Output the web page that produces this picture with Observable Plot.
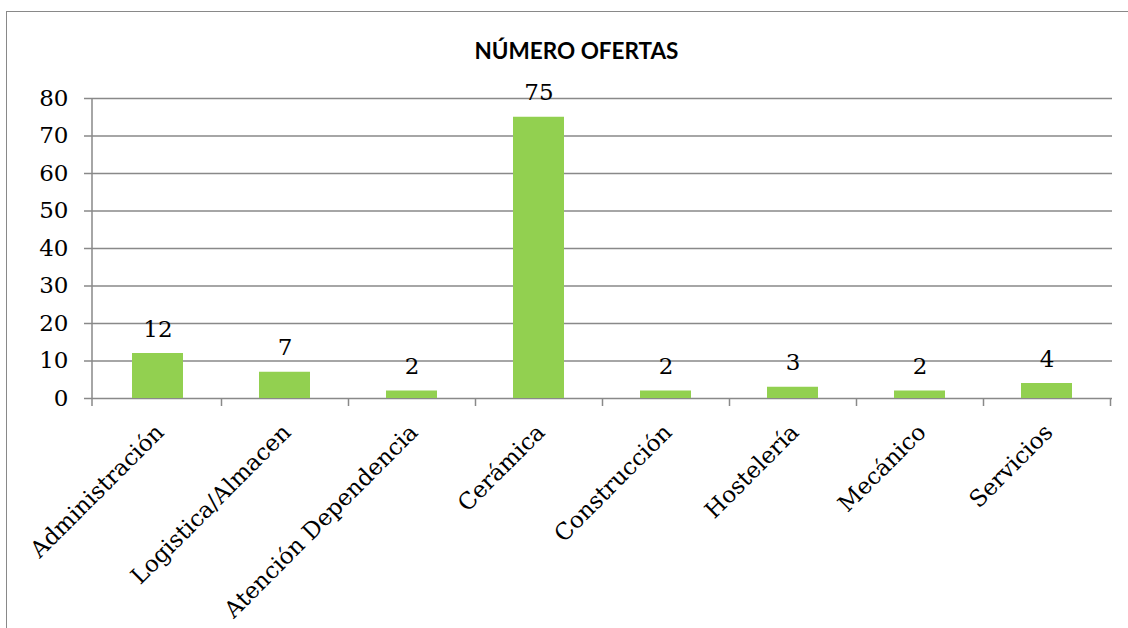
<!DOCTYPE html>
<html><head><meta charset="utf-8">
<script src="https://cdn.jsdelivr.net/npm/d3@7"></script>
<script src="https://cdn.jsdelivr.net/npm/@observablehq/plot@0.6"></script>
<style>
body{margin:0;background:#fff;}
#wrap{position:relative;width:1128px;height:628px;overflow:hidden;background:#fff;}
#frame{position:absolute;left:6px;top:11px;width:1200px;height:700px;border:1.5px solid #898989;box-sizing:border-box;}
#title{position:absolute;left:0;width:1153px;top:37px;text-align:center;font:bold 22.5px Lato;color:#000;}
#chart{position:absolute;left:0;top:0;}
</style></head>
<body>
<div id="wrap"><div id="frame"></div><div id="chart"></div><div id="title">NÚMERO OFERTAS</div></div>
<script>
const categories = ["Administración","Logistica/Almacen","Atención Dependencia","Cerámica","Construcción","Hostelería","Mecánico","Servicios"];
const values = [12, 7, 2, 75, 2, 3, 2, 4];
const yTicks = [0,10,20,30,40,50,60,70,80];

const data = categories.map((c,i)=>({cat:c, val:values[i]}));
const serif = "DejaVu Serif";
const grey = "#898989";

const axisLines = (index, scales, values, dim) => {
  const g = d3.create("svg:g").attr("stroke", grey).attr("stroke-width", 1.5).attr("fill","none");
  const x0 = dim.marginLeft, y0 = dim.height - dim.marginBottom, top = dim.marginTop;
  const step = (dim.width - dim.marginLeft - dim.marginRight) / categories.length;
  g.append("line").attr("x1", x0).attr("x2", x0).attr("y1", top).attr("y2", y0 + 8);
  for (const c of categories) {
    const xb = scales.x(c) + step;
    g.append("line").attr("x1", xb).attr("x2", xb).attr("y1", y0).attr("y2", y0 + 8);
  }
  return g.node();
};

const chart = Plot.plot({
  width: 1128,
  height: 628,
  marginLeft: 92,
  marginRight: 16,
  marginTop: 98,
  marginBottom: 230,
  style: {background: "transparent", color: "#000"},
  x: {domain: categories, padding: 0, label: null},
  y: {domain: [0, 80], label: null},
  marks: [
    Plot.gridY(yTicks, {stroke: grey, strokeOpacity: 1, strokeWidth: 1.5}),
    Plot.barY(data, {x: "cat", y: "val", fill: "#92D050", insetLeft: 38, insetRight: 38}),
    axisLines,
    Plot.axisY(yTicks, {tickSize: 8, tickPadding: 16, stroke: grey, strokeWidth: 1.5, fontSize: 23, fontFamily: serif, label: null}),
    Plot.axisX({tickRotate: -45, tickSize: 0, tickPadding: 30, dx: 2, fontSize: 23, fontFamily: serif, label: null}),
    Plot.text(data, {x: "cat", y: "val", text: d => String(d.val), lineAnchor: "bottom", dy: -17, fontSize: 23, fontFamily: serif, fill: "#000"})
  ]
});
document.getElementById("chart").appendChild(chart);
</script>
</body></html>
